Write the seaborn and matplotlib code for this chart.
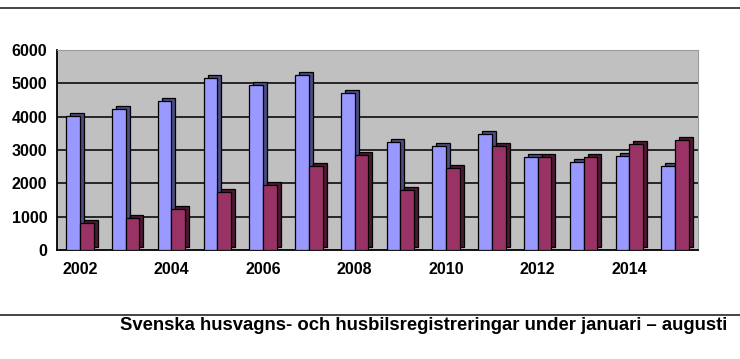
import matplotlib
matplotlib.use("Agg")
import matplotlib.pyplot as plt
import matplotlib.transforms as mtransforms
from matplotlib.patches import Rectangle
from matplotlib.lines import Line2D
import seaborn as sns
import pandas as pd

# registrations Jan-Aug per year
years = list(range(2002, 2016))
husvagnar = [4010, 4235, 4460, 5150, 4950, 5255, 4725, 3235, 3110, 3480, 2790, 2635, 2810, 2520]
husbilar = [815, 950, 1245, 1735, 1960, 2520, 2855, 1805, 2450, 3110, 2790, 2790, 3185, 3315]
y_ticks = [0, 1000, 2000, 3000, 4000, 5000, 6000]
caption = "Svenska husvagns- och husbilsregistreringar under januari \u2013 augusti"

df = pd.DataFrame({
    "year": [str(y) for y in years] * 2,
    "count": husvagnar + husbilar,
    "type": ["husvagn"] * len(years) + ["husbil"] * len(years),
})

sns.set_style("white")
plt.rcParams["font.family"] = ["Liberation Sans", "DejaVu Sans"]
plt.rcParams["text.color"] = "black"
plt.rcParams["xtick.color"] = "black"
plt.rcParams["ytick.color"] = "black"

fig = plt.figure(figsize=(7.4, 3.59), dpi=100)
ax = fig.add_axes([57 / 740, 1 - 250 / 359, (698 - 57) / 740, (250 - 50) / 359])
ax.set_facecolor("#c0c0c0")

sns.barplot(data=df, x="year", y="count", hue="type", palette=["#9999ff", "#993366"],
            width=0.6, edgecolor="black", linewidth=0.9, saturation=1, legend=False, ax=ax, zorder=3)

# fake 3D depth: darker copy of each bar shifted up/right, behind the front faces
shift = ax.transData + mtransforms.ScaledTranslation(4 / 100, 3 / 100, fig.dpi_scale_trans)
side = {"#9999ff": "#4c4c80", "#993366": "#4c1933"}
for p in list(ax.patches):
    fc = matplotlib.colors.to_hex(p.get_facecolor())
    r = Rectangle((p.get_x(), p.get_y()), p.get_width(), p.get_height(), transform=shift,
                  facecolor=side.get(fc, "#333333"), edgecolor="black", linewidth=0.9, zorder=2)
    ax.add_patch(r)

ax.set_xlim(-0.5, len(years) - 0.5)
ax.set_ylim(0, 6000)
ax.set_yticks(y_ticks)
ax.set_xticks(range(0, len(years), 2))
ax.set_xticklabels([str(y) for y in years[::2]])
ax.set_xticks([i - 0.5 for i in range(len(years) + 1)], minor=True)
ax.tick_params(axis="x", which="major", length=0, pad=9, labelsize=11.5, labelcolor="black")
ax.tick_params(axis="x", which="minor", length=4, width=1.2, color="black", direction="out")
ax.tick_params(axis="y", length=5, width=1.2, color="black", direction="out", pad=2, labelsize=11.5,
               labelcolor="black")
for lab in ax.get_xticklabels() + ax.get_yticklabels():
    lab.set_fontweight("bold")

ax.yaxis.grid(True, color="#1a1a1a", linewidth=1.3, zorder=1)
ax.set_axisbelow(True)
ax.get_ygridlines()[-1].set_visible(False)
ax.get_ygridlines()[0].set_visible(False)

ax.spines["left"].set_color("black")
ax.spines["left"].set_linewidth(1.3)
ax.spines["bottom"].set_color("black")
ax.spines["bottom"].set_linewidth(1.3)
ax.spines["top"].set_color("#9a9a9a")
ax.spines["right"].set_color("#9a9a9a")
ax.set_xlabel("")
ax.set_ylabel("")

# horizontal rules and caption
fig.add_artist(Line2D([0, 1], [1 - 8 / 359] * 2, color="#444444", linewidth=1.4))
fig.add_artist(Line2D([0, 1], [1 - 315 / 359] * 2, color="#444444", linewidth=1.4))
fig.text(727 / 740, 1 - 326 / 359, caption, ha="right", va="center", fontsize=13.3,
         fontweight="bold", color="black")

fig.savefig("out.png", dpi=100)
